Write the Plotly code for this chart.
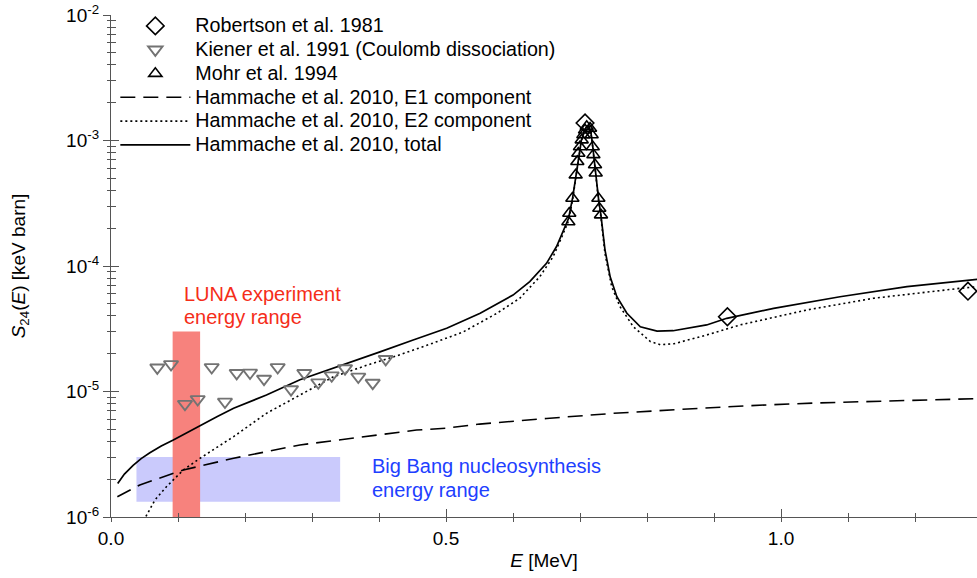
import math
import plotly.graph_objects as go

# ---------------- data ----------------
# Hammache et al. 2010, total
E_total = [0.010, 0.020, 0.033, 0.045, 0.058, 0.075, 0.093, 0.113, 0.133, 0.158, 0.183, 0.232, 0.282, 0.332, 0.382,
           0.4015, 0.451, 0.501, 0.551, 0.600, 0.625, 0.650, 0.665, 0.675, 0.683,
           0.689, 0.694, 0.698, 0.702, 0.706, 0.710, 0.713, 0.716, 0.718, 0.721,
           0.724, 0.728, 0.731, 0.734, 0.7373, 0.745, 0.755, 0.770, 0.790, 0.815,
           0.839, 0.889, 0.919, 0.989, 1.088, 1.188, 1.267, 1.300]
S_total = [1.85e-6, 2.2e-6, 2.58e-6, 2.92e-6, 3.25e-6, 3.68e-6, 4.11e-6, 4.7e-6, 5.41e-6, 6.3e-6, 7.35e-6, 9.38e-6, 1.24e-5, 1.53e-5, 1.88e-5,
           2.07e-5, 2.57e-5, 3.19e-5, 4.20e-5, 5.87e-5, 7.50e-5, 1.05e-4, 1.43e-4, 1.9e-4, 2.4e-4,
           3.5e-4, 5.3e-4, 7.8e-4, 1.0e-3, 1.17e-3, 1.30e-3, 1.31e-3, 1.18e-3, 1.0e-3, 7.0e-4,
           5.3e-4, 3.3e-4, 2.6e-4, 1.9e-4, 1.34e-4, 8.2e-5, 5.69e-5, 4.2e-5, 3.28e-5, 3.03e-5,
           3.05e-5, 3.39e-5, 3.83e-5, 4.60e-5, 5.69e-5, 6.84e-5, 7.64e-5, 7.9e-5]

# Hammache et al. 2010, E2 component
E_e2 = [0.045, 0.0657, 0.083, 0.108, 0.133, 0.183, 0.232, 0.282, 0.332, 0.382,
        0.426, 0.476, 0.526, 0.576, 0.610, 0.640, 0.660, 0.673, 0.683, 0.689,
        0.694, 0.698, 0.702, 0.706, 0.710, 0.713, 0.716, 0.718, 0.721, 0.724,
        0.728, 0.731, 0.734, 0.7373, 0.7473, 0.7597, 0.7796, 0.805, 0.820, 0.840,
        0.889, 0.9388, 1.0383, 1.1378, 1.267, 1.300]
S_e2 = [8.6e-7, 1.37e-6, 1.75e-6, 2.37e-6, 2.94e-6, 4.37e-6, 6.7e-6, 9.38e-6, 1.31e-5, 1.62e-5,
        1.92e-5, 2.38e-5, 2.99e-5, 4.20e-5, 5.53e-5, 8.22e-5, 1.19e-4, 1.71e-4, 2.3e-4, 3.4e-4,
        5.2e-4, 7.7e-4, 9.9e-4, 1.16e-3, 1.29e-3, 1.30e-3, 1.17e-3, 9.9e-4, 6.9e-4, 5.2e-4,
        3.2e-4, 2.5e-4, 1.8e-4, 1.25e-4, 6.84e-5, 4.74e-5, 3.28e-5, 2.5e-5, 2.36e-5, 2.4e-5,
        2.82e-5, 3.39e-5, 4.46e-5, 5.53e-5, 6.64e-5, 6.9e-5]

# Hammache et al. 2010, E1 component
E_e1 = [0.0095, 0.043, 0.108, 0.183, 0.282, 0.382, 0.456, 0.500, 0.550, 0.650,
        0.750, 0.850, 0.950, 1.050, 1.150, 1.300]
S_e1 = [1.45e-6, 1.8e-6, 2.37e-6, 2.94e-6, 3.75e-6, 4.42e-6, 4.93e-6, 5.1e-6, 5.5e-6, 6.1e-6,
        6.7e-6, 7.2e-6, 7.7e-6, 8.1e-6, 8.4e-6, 8.8e-6]

# Robertson et al. 1981
E_rob = [0.7075, 0.920, 1.279]
S_rob = [1.38e-3, 3.94e-5, 6.3e-5]

# Kiener et al. 1991 (Coulomb dissociation)
E_kie = [0.0691, 0.0896, 0.1104, 0.1294, 0.1503, 0.1701, 0.1876, 0.2075, 0.2284, 0.2488,
         0.2687, 0.2885, 0.3094, 0.3294, 0.3493, 0.3691, 0.3906, 0.4100]
S_kie = [1.55e-5, 1.65e-5, 7.95e-6, 8.67e-6, 1.56e-5, 8.29e-6, 1.40e-5, 1.41e-5, 1.26e-5, 1.56e-5,
         1.04e-5, 1.40e-5, 1.18e-5, 1.34e-5, 1.53e-5, 1.31e-5, 1.17e-5, 1.81e-5]

# Mohr et al. 1994
E_mohr = [0.6826, 0.684, 0.6886, 0.6935, 0.696, 0.6975, 0.700, 0.7025, 0.705, 0.7075, 0.710,
          0.715, 0.7174, 0.719, 0.720, 0.7224, 0.7234, 0.7274, 0.7288, 0.7313]
S_mohr = [2.25e-4, 2.63e-4, 3.46e-4, 5.31e-4, 6.78e-4, 7.9e-4, 8.9e-4, 1.01e-3, 1.11e-3, 1.21e-3, 1.29e-3,
          1.25e-3, 1.11e-3, 8.9e-4, 7.7e-4, 6.4e-4, 5.5e-4, 3.46e-4, 2.88e-4, 2.55e-4]

# energy ranges
luna_E = [0.092, 0.133]
luna_S = [1.0e-6, 3.0e-5]
bbn_E = [0.038, 0.342]
bbn_S = [1.32e-6, 3.0e-6]

x_range = [0.0, 1.2925]
y_range_log = [-6, -2]
x_major = [0.0, 0.5, 1.0]
x_major_text = ["0.0", "0.5", "1.0"]
x_minor = [0.1, 0.2, 0.3, 0.4, 0.6, 0.7, 0.8, 0.9, 1.1, 1.2]
y_major = [1e-6, 1e-5, 1e-4, 1e-3, 1e-2]
y_major_text = ["10<sup>-6</sup>", "10<sup>-5</sup>", "10<sup>-4</sup>", "10<sup>-3</sup>", "10<sup>-2</sup>"]

FONT = "Liberation Sans, Arial, Helvetica, sans-serif"
AXC = "#555555"

fig = go.Figure()


def rect(xs, ys, color):
    return go.Scatter(x=[xs[0], xs[1], xs[1], xs[0], xs[0]],
                      y=[ys[0], ys[0], ys[1], ys[1], ys[0]],
                      mode="lines", fill="toself", fillcolor=color,
                      line=dict(width=0, color=color), showlegend=False, hoverinfo="skip")


fig.add_trace(rect(bbn_E, bbn_S, "rgb(202,202,252)"))
fig.add_trace(rect(luna_E, luna_S, "rgb(247,130,125)"))


def lbl(t):
    return '<span style="font-size:19.7px">' + t + '</span>'


fig.add_trace(go.Scatter(x=E_e1, y=S_e1, mode="lines", name=lbl("Hammache et al. 2010, E1 component"),
                         line=dict(color="black", width=1.6, dash="15px,8px"), legendrank=4))
fig.add_trace(go.Scatter(x=E_e2, y=S_e2, mode="lines", name=lbl("Hammache et al. 2010, E2 component"),
                         line=dict(color="black", width=1.6, dash="2px,3px"), legendrank=5))
fig.add_trace(go.Scatter(x=E_total, y=S_total, mode="lines", name=lbl("Hammache et al. 2010, total"),
                         line=dict(color="black", width=1.7), legendrank=6))

fig.add_trace(go.Scatter(x=E_kie, y=S_kie, mode="markers", name=lbl("Kiener et al. 1991 (Coulomb dissociation)"),
                         marker=dict(symbol="triangle-down-open", size=12.5, color="rgb(115,115,115)",
                                     line=dict(width=1.9)), legendrank=2))
fig.add_trace(go.Scatter(x=E_mohr, y=S_mohr, mode="markers", name=lbl("Mohr et al. 1994"),
                         marker=dict(symbol="triangle-up-open", size=11.5, color="black",
                                     line=dict(width=1.6)), legendrank=3))
fig.add_trace(go.Scatter(x=E_rob, y=S_rob, mode="markers", name=lbl("Robertson et al. 1981"),
                         marker=dict(symbol="diamond-open", size=13.5, color="black",
                                     line=dict(width=1.6)), legendrank=1))

# helper trace to carry the inner tick marks
fig.add_trace(go.Scatter(x=[None], y=[None], xaxis="x2", yaxis="y2", showlegend=False, hoverinfo="skip"))

y_minor = [m * 10.0 ** e for e in range(-6, -2) for m in range(2, 10)]

fig.update_layout(
    width=977, height=578,
    margin=dict(l=111, r=0, t=15, b=61),
    paper_bgcolor="white", plot_bgcolor="white",
    font=dict(family=FONT, size=19, color="black"),
    showlegend=True,
    legend=dict(x=0.005, y=1.012, xanchor="left", yanchor="top", bgcolor="rgba(0,0,0,0)",
                font=dict(size=16, family=FONT), itemwidth=70, tracegroupgap=0),
    xaxis=dict(range=x_range, showgrid=False, zeroline=False, showline=True, linecolor=AXC, linewidth=1.3,
               tickmode="array", tickvals=x_major, ticktext=x_major_text,
               ticks="outside", ticklen=4, tickcolor=AXC, tickwidth=1.2,
               minor=dict(tickmode="array", tickvals=x_minor, ticks="outside", ticklen=4,
                          tickcolor=AXC, tickwidth=1.2, showgrid=False),
               tickfont=dict(size=19),
               title=dict(text="<i>E</i> [MeV]", font=dict(size=19), standoff=5)),
    yaxis=dict(type="log", range=y_range_log, showgrid=False, zeroline=False, showline=True,
               linecolor=AXC, linewidth=1.3, tickmode="array", tickvals=y_major, ticktext=y_major_text,
               ticks="outside", ticklen=7, tickcolor=AXC, tickwidth=1.2,
               minor=dict(tickmode="array", tickvals=y_minor, ticks="outside", ticklen=3,
                          tickcolor=AXC, tickwidth=1.2, showgrid=False),
               tickfont=dict(size=19),
               title=dict(text="<i>S</i><sub>24</sub>(<i>E</i>) [keV barn]", font=dict(size=19), standoff=35)),
    xaxis2=dict(overlaying="x", anchor="y2", side="bottom", range=x_range, showgrid=False, zeroline=False,
                showline=False, showticklabels=False, tickmode="array", tickvals=x_major,
                ticks="inside", ticklen=8, tickcolor=AXC, tickwidth=1.2,
                minor=dict(tickmode="array", tickvals=x_minor, ticks="inside", ticklen=4,
                           tickcolor=AXC, tickwidth=1.2, showgrid=False)),
    yaxis2=dict(overlaying="y", anchor="x2", side="left", type="log", range=y_range_log, showgrid=False,
                zeroline=False, showline=False, showticklabels=False, tickmode="array", tickvals=y_major,
                ticks="inside", ticklen=8, tickcolor=AXC, tickwidth=1.2,
                minor=dict(tickmode="array", tickvals=y_minor, ticks="inside", ticklen=5,
                           tickcolor=AXC, tickwidth=1.2, showgrid=False)),
)

RED = "rgb(245,45,25)"
BLUE = "rgb(30,64,255)"
ann = [
    ("LUNA experiment", 0.106, -4.225, RED),
    ("energy range", 0.106, -4.408, RED),
    ("Big Bang nucleosynthesis", 0.3866, -5.594, BLUE),
    ("energy range", 0.3866, -5.785, BLUE),
]
for t, x, y, c in ann:
    fig.add_annotation(text=t, x=x, y=y, xref="x", yref="y", xanchor="left", yanchor="middle",
                       showarrow=False, font=dict(size=20, color=c, family=FONT))

fig.write_html("out.html")
